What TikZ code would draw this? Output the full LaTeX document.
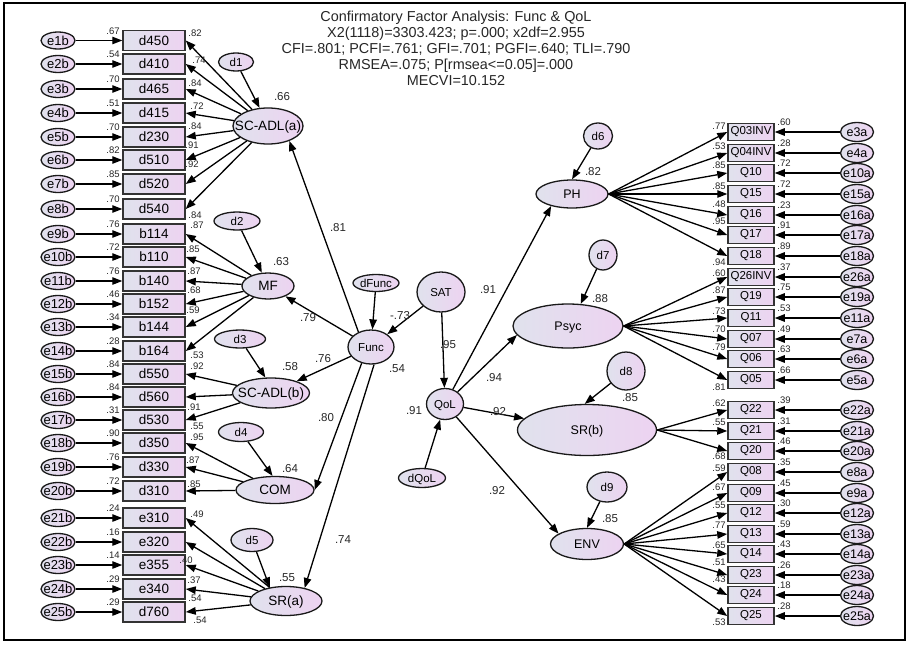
\documentclass[tikz,border=0pt]{standalone}
\usepackage{fontspec}
\setmainfont{Liberation Sans}
\usetikzlibrary{shapes.geometric,arrows.meta}
\definecolor{cl}{RGB}{224,226,237}
\definecolor{cr}{RGB}{237,211,241}
\newcommand{\mkzt}[1]{\raisebox{-.36em}[0pt][0pt]{\makebox[0pt]{#1}}}
\newcommand{\myfs}[1]{\fontsize{#1}{#1}\selectfont}
\begin{document}
\begin{tikzpicture}[x=1pt,y=-1pt,
 gradfill/.style={left color=cl,right color=cr},
 ov/.style={ellipse,draw=black!90,line width=1.3pt,inner sep=0pt,gradfill},
 latL/.style={ov,font=\myfs{13.5}},
 latR/.style={ov,font=\myfs{12.5}},
 latM/.style={ov,font=\myfs{11.5}},
 dist/.style={ov,font=\myfs{11.5}},
 errL/.style={ov,minimum width=34pt,minimum height=17pt,font=\myfs{13}},
 errR/.style={ov,minimum width=33pt,minimum height=19pt,font=\myfs{12.5}},
 boxL/.style={rectangle,draw=black!80,line width=1.5pt,inner sep=0pt,gradfill,minimum width=62pt,minimum height=20pt,font=\myfs{13.5}},
 boxR/.style={boxL,minimum width=46pt,minimum height=17pt,font=\myfs{11.5}},
 arr/.style={draw,line width=1.3pt,-{Triangle[length=10pt,width=7.5pt]}},
 num/.style={inner sep=0pt,font=\myfs{9.5},text=black!85},
 coef/.style={inner sep=0pt,font=\myfs{11.5},text=black!85},
]
\useasboundingbox (0,0) rectangle (909,645);
\draw[line width=1.6pt] (4,3) rectangle (905,640);

% title
\node[align=center,font=\fontsize{14.4}{16}\selectfont,inner sep=0pt,anchor=north,text=black!85] (title) at (456,11)
 {Confirmatory Factor Analysis: Func \& QoL\\X2(1118)=3303.423; p=.000; x2df=2.955\\CFI=.801; PCFI=.761; GFI=.701; PGFI=.640; TLI=.790\\RMSEA=.075; P[rmsea<=0.05]=.000\\MECVI=10.152};

% left indicators
\foreach \ii/\bn/\en/\yv/\rv in {
1/d450/e1b/40.5/.67, 2/d410/e2b/64/.54, 3/d465/e3b/89/.70, 4/d415/e4b/113/.51,
5/d230/e5b/137/.70, 6/d510/e6b/160/.82, 7/d520/e7b/184/.85, 8/d540/e8b/209/.70,
9/b114/e9b/234/.76, 10/b110/e10b/257/.72, 11/b140/e11b/281/.76, 12/b152/e12b/304/.46,
13/b144/e13b/327/.34, 14/b164/e14b/351/.28, 15/d550/e15b/374/.84, 16/d560/e16b/397/.84,
17/d530/e17b/420/.31, 18/d350/e18b/443/.90, 19/d330/e19b/467/.76, 20/d310/e20b/491/.72,
21/e310/e21b/518/.24, 22/e320/e22b/542/.16, 23/e355/e23b/565/.14, 24/e340/e24b/589/.29,
25/d760/e25b/612/.29}{
 \node[boxL] (L\ii) at (154,\yv) {\bn};
 \node[errL] (EL\ii) at (58,\yv) {\mkzt{\en}};
 \draw[arr] (EL\ii) -- (L\ii);
 \node[num] (RL\ii) at (113,\yv-9.5) {\rv};
}

% right indicators
\foreach \ii/\bn/\en/\yv/\rv/\lv/\lyv in {
1/Q03INV/e3a/132/.60/.77/126, 2/Q04INV/e4a/153/.28/.53/146, 3/Q10/e10a/173/.72/.85/165,
4/Q15/e15a/194/.72/.85/186, 5/Q16/e16a/215/.23/.48/204, 6/Q17/e17a/235/.91/.95/221,
7/Q18/e18a/256/.89/.94/262, 8/Q26INV/e26a/277/.37/.60/273, 9/Q19/e19a/297/.75/.87/290,
10/Q11/e11a/318/.53/.73/311, 11/Q07/e7a/339/.49/.70/329, 12/Q06/e6a/359/.63/.79/347,
13/Q05/e5a/380/.66/.81/387, 14/Q22/e22a/410/.39/.62/403, 15/Q21/e21a/431/.31/.55/422,
16/Q20/e20a/451/.46/.68/456, 17/Q08/e8a/472/.35/.59/468, 18/Q09/e9a/493/.45/.67/487,
19/Q12/e12a/513/.30/.55/505, 20/Q13/e13a/534/.59/.77/525, 21/Q14/e14a/554/.43/.65/545,
22/Q23/e23a/575/.26/.51/562, 23/Q24/e24a/595/.18/.43/579, 24/Q25/e25a/616/.28/.53/622}{
 \node[boxR] (R\ii) at (751,\yv) {\bn};
 \node[errR] (ER\ii) at (857,\yv) {\mkzt{\en}};
 \draw[arr] (ER\ii) -- (R\ii);
 \node[num] (RR\ii) at (784,\yv-10) {\rv};
 \node[num] (LR\ii) at (719,\lyv) {\lv};
}

% left latents
\node[latL,minimum width=70pt,minimum height=36pt] (SCa) at (268,126) {\mkzt{SC-ADL(a)}};
\node[latL,minimum width=52pt,minimum height=26pt] (MF) at (268,286) {\mkzt{MF}};
\node[latL,minimum width=77pt,minimum height=30pt] (SCb) at (271,393) {\mkzt{SC-ADL(b)}};
\node[latL,minimum width=78pt,minimum height=27pt] (COM) at (275,490) {\mkzt{COM}};
\node[latL,minimum width=72pt,minimum height=29pt] (SRa) at (286,601) {\mkzt{SR(a)}};
\node[dist,minimum width=35pt,minimum height=18pt] (d1) at (236,62) {\mkzt{d1}};
\node[dist,minimum width=46pt,minimum height=18pt] (d2) at (237,221) {\mkzt{d2}};
\node[dist,minimum width=51pt,minimum height=18pt] (d3) at (240,339) {\mkzt{d3}};
\node[dist,minimum width=45pt,minimum height=19pt] (d4) at (241,432) {\mkzt{d4}};
\node[dist,minimum width=42pt,minimum height=23pt] (d5) at (252,540) {\mkzt{d5}};

% middle
\node[latM,minimum width=46pt,minimum height=17pt] (dFunc) at (376,283) {\mkzt{dFunc}};
\node[latM,minimum width=46pt,minimum height=34pt] (Func) at (371,347) {\mkzt{Func}};
\node[latM,minimum width=48pt,minimum height=40pt] (SAT) at (441,292) {\mkzt{SAT}};
\node[latM,minimum width=37pt,minimum height=31pt] (QoL) at (445,404) {\mkzt{QoL}};
\node[latM,minimum width=47pt,minimum height=19pt] (dQoL) at (422,478) {\mkzt{dQoL}};

% right latents
\node[dist,minimum width=29pt,minimum height=26pt] (d6) at (598,136) {\mkzt{d6}};
\node[latR,minimum width=72pt,minimum height=28pt] (PH) at (572,194) {\mkzt{PH}};
\node[dist,minimum width=28pt,minimum height=30pt] (d7) at (603,255) {\mkzt{d7}};
\node[latR,minimum width=110pt,minimum height=44pt] (Psyc) at (568,326) {\mkzt{Psyc}};
\node[dist,minimum width=38pt,minimum height=38pt] (d8) at (626,371) {\mkzt{d8}};
\node[latR,minimum width=139pt,minimum height=51pt] (SRb) at (587,430) {\mkzt{SR(b)}};
\node[dist,minimum width=40pt,minimum height=30pt] (d9) at (607,487) {\mkzt{d9}};
\node[latR,minimum width=73pt,minimum height=31pt] (ENV) at (587,544) {\mkzt{ENV}};

% loadings arrows
\foreach \ii in {1,...,8} \draw[arr] (SCa) -- (L\ii.east);
\foreach \ii in {9,...,14} \draw[arr] (MF) -- (L\ii.east);
\foreach \ii in {15,16,17} \draw[arr] (SCb) -- (L\ii.east);
\foreach \ii in {18,19,20} \draw[arr] (COM) -- (L\ii.east);
\foreach \ii in {21,...,25} \draw[arr] (SRa) -- (L\ii.east);
\foreach \ii in {1,...,7} \draw[arr] (PH.east) -- (R\ii.west);
\foreach \ii in {8,...,13} \draw[arr] (Psyc.east) -- (R\ii.west);
\foreach \ii in {14,15,16} \draw[arr] (SRb.east) -- (R\ii.west);
\foreach \ii in {17,...,24} \draw[arr] (ENV.east) -- (R\ii.west);

% structural arrows
\draw[arr] (Func.130) -- (SCa.-35);
\draw[arr] (Func) -- (MF);
\draw[arr] (Func) -- (SCb);
\draw[arr] (Func.-120) -- (COM.east);
\draw[arr] (Func.-80) -- (SRa.35);
\draw[arr] (dFunc) -- (Func);
\draw[arr] (SAT) -- (Func);
\draw[arr] (SAT) -- (QoL);
\draw[arr] (dQoL) -- (QoL);
\draw[arr] (QoL) -- (PH.-150);
\draw[arr] (QoL) -- (Psyc.190);
\draw[arr] (QoL) -- (SRb);
\draw[arr] (QoL) -- (ENV.160);
\draw[arr] (d1) -- (SCa.115);
\draw[arr] (d2) -- (MF.115);
\draw[arr] (d3) -- (SCb.110);
\draw[arr] (d4) -- (COM.100);
\draw[arr] (d5) -- (SRa.140);
\draw[arr] (d6) -- (PH.north);
\draw[arr] (d7) -- (Psyc.60);
\draw[arr] (d8) -- (SRb.95);
\draw[arr] (d9) -- (ENV.north);

% left loading labels
\foreach \nn/\xv/\yv/\vv in {1/195/33/.82, 2/199/60/.74, 3/195/83/.84, 4/197/106/.72,
 5/195/126/.84, 6/192/145/.91, 7/192/164/.92, 8/195/215/.84, 9/197/225/.87, 10/193/249/.85,
 11/194/271/.87, 12/194/290/.68, 13/193/310/.59, 14/197/355/.53, 15/197/366/.92,
 16/194/407/.91, 17/197/426/.55, 18/197/437/.95, 19/193/460/.87, 20/194/484/.85,
 21/197/514/.49, 22/186/560/.40, 23/194/580/.37, 24/195/598/.54, 25/200/620/.54}
 \node[num] (LL\nn) at (\xv,\yv) {\vv};

% latent R2 and structural coefficients
\foreach \nn/\xv/\yv/\vv in {c1/282/97/.66, c2/281/262/.63, c3/290/367/.58, c4/290/469/.64,
 c5/287/578/.55, c6/593/172/.82, c7/600/299/.88, c8/630/398/.85, c9/610/519/.85,
 c10/488/290/.91, c11/494/378/.94, c12/498/412/.92, c13/497/491/.92, c14/400/316/-.73,
 c15/448/345/.95, c16/414/411/.91, c17/308/318/.79, c18/323/359/.76, c19/397/369/.54,
 c20/326/418/.80, c21/338/228/.81, c22/343/540/.74}
 \node[coef] (\nn) at (\xv,\yv) {\vv};
\end{tikzpicture}
\end{document}
